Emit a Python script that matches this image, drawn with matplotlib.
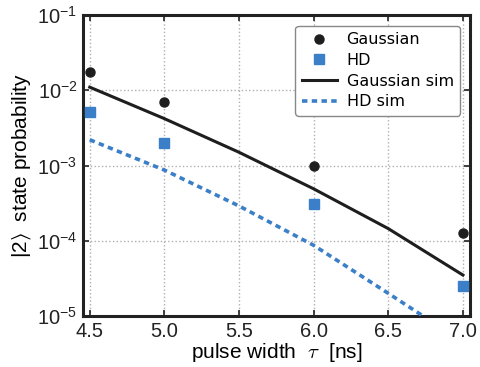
import matplotlib.pyplot as plt
import matplotlib.ticker as mticker
import numpy as np

plt.rcParams['mathtext.fontset'] = 'cm'
plt.rcParams['mathtext.default'] = 'regular'
plt.rcParams['font.family'] = ['Liberation Sans', 'DejaVu Sans']

# measured points
tau = [4.5, 5.0, 6.0, 7.0]
gauss = [1.75e-2, 7.0e-3, 9.8e-4, 1.27e-4]
hd = [5.1e-3, 2.0e-3, 3.1e-4, 2.5e-5]

# simulation curves
tau_sim = [4.5, 5.0, 5.5, 6.0, 6.5, 7.0]
gauss_sim = [1.1e-2, 4.2e-3, 1.5e-3, 4.9e-4, 1.45e-4, 3.5e-5]
hd_sim = [2.2e-3, 8.7e-4, 2.9e-4, 8.7e-5, 2.0e-5, 4.5e-6]

blue = '#3a7fc8'

fig = plt.figure(figsize=(4.81, 3.67), dpi=100)
ax = fig.add_axes([0.1726, 0.139, 0.8044, 0.820])

ax.plot(tau, gauss, 'o', color='#1e1e1e', ms=6.5, label='Gaussian', zorder=4)
ax.plot(tau, hd, 's', color=blue, ms=6.5, label='HD', zorder=4)
ax.plot(tau_sim, gauss_sim, '-', color='#1e1e1e', lw=2.2, label='Gaussian sim', zorder=3)
ax.plot(tau_sim, hd_sim, '--', color=blue, lw=2.6, dashes=(1.5, 1.2), label='HD sim', zorder=3)

ax.set_yscale('log')
ax.set_xlim(4.455, 7.047)
ax.set_ylim(1e-5, 1e-1)
ax.set_xticks([4.5, 5.0, 5.5, 6.0, 6.5, 7.0])
ax.xaxis.set_major_formatter(mticker.FormatStrFormatter('%.1f'))
ax.yaxis.set_major_locator(mticker.LogLocator(base=10, numticks=10))
ax.yaxis.set_minor_locator(mticker.NullLocator())
ax.yaxis.set_major_formatter(mticker.FuncFormatter(
    lambda v, p: r'$\mathregular{10^{%d}}$' % round(np.log10(v))))

ax.grid(True, color='#b0b0b0', ls=':', lw=1.0)
for s in ax.spines.values():
    s.set_linewidth(2.2)
    s.set_color('#222222')
ax.tick_params(direction='in', length=4, width=1.2, top=True, right=True,
               labelsize=14.5, pad=4, colors='#222222')

ax.set_xlabel(r'pulse width $\ \mathit{\tau}\ $ [ns]', fontsize=15, labelpad=0)
ax.set_ylabel(r'$|2\rangle$  state probability', fontsize=15, labelpad=3)

leg = ax.legend(loc='upper right', prop={'family': 'DejaVu Sans', 'size': 11.5},
                frameon=True, fancybox=True, edgecolor='#888888', framealpha=1,
                borderpad=0.4, labelspacing=0.35, handlelength=2.2, handletextpad=0.6,
                bbox_to_anchor=(0.995, 0.99))
leg.get_frame().set_linewidth(1.0)

fig.savefig('out.png', dpi=100)
